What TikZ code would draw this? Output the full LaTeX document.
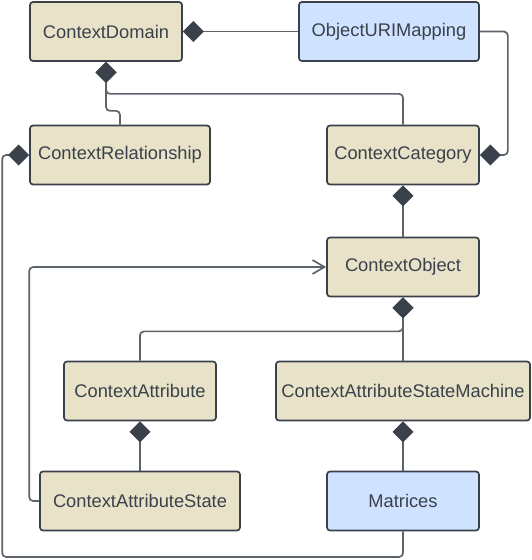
\documentclass[tikz,border=0pt]{standalone}
\usepackage{fontspec}
\setmainfont{Liberation Sans}
\usetikzlibrary{arrows.meta}
\definecolor{boxfill}{HTML}{E8E2C8}
\definecolor{urifill}{HTML}{CFE2FF}
\definecolor{edge}{HTML}{3A414A}
\definecolor{wire}{HTML}{5D636B}

\begin{document}
\begin{tikzpicture}[x=1pt,y=-1pt,
      cls/.style={draw=edge, line width=1.7pt, fill=boxfill, rounded corners=3pt, text=edge,
        font=\fontsize{18.3}{21}\selectfont, minimum height=59pt, inner sep=0pt},
      ext/.style={cls, fill=urifill},
      comp/.style={draw=wire, line width=1.7pt, rounded corners=4pt, {Diamond[length=21pt,width=21pt,color=edge]}-},
      assoc/.style={draw=wire, line width=1.7pt, rounded corners=4pt, -{Straight Barb[length=12pt,width=14pt]}}]
      \useasboundingbox (0,0) rectangle (532,560);
      % classes
      \node[cls, minimum width=152pt] (dom) at (106,31.5) {ContextDomain};
      \node[ext, minimum width=180pt] (uri) at (389,31.5) {ObjectURIMapping};
      \node[cls, minimum width=180pt] (rel) at (120,155) {ContextRelationship};
      \node[cls, minimum width=152pt] (cat) at (403,155) {ContextCategory};
      \node[cls, minimum width=152pt] (obj) at (403,267) {ContextObject};
      \node[cls, minimum width=152pt] (attr) at (140,391) {ContextAttribute};
      \node[cls, minimum width=254pt] (asm) at (403,391) {ContextAttributeStateMachine};
      \node[cls, minimum width=200pt] (ast) at (140,501) {ContextAttributeState};
      \node[ext, minimum width=152pt] (mat) at (403,501) {Matrices};
      % compositions
      \draw[comp] (dom.east) -- (uri.west);
      \draw[comp] (cat.east) -- ++(28,0) |- (uri.east);
      \draw[comp] (dom.south) -- ++(0,32) -| (cat.north);
      \draw[comp] (dom.south) -- ++(0,49) -| (rel.north);
      \draw[comp] (cat.south) -- (obj.north);
      \draw[comp] (obj.south) -- (asm.north);
      \draw[comp] (obj.south) -- ++(0,34) -| (attr.north);
      \draw[comp] (attr.south) -- (ast.north);
      \draw[comp] (asm.south) -- (mat.north);
      \draw[comp] (rel.west) -- ++(-27,0) -- ++(0,402) -| (mat.south);
      % association
      \draw[assoc] (ast.west) -- ++(-10,0) |- (obj.west);
\end{tikzpicture}
\end{document}
